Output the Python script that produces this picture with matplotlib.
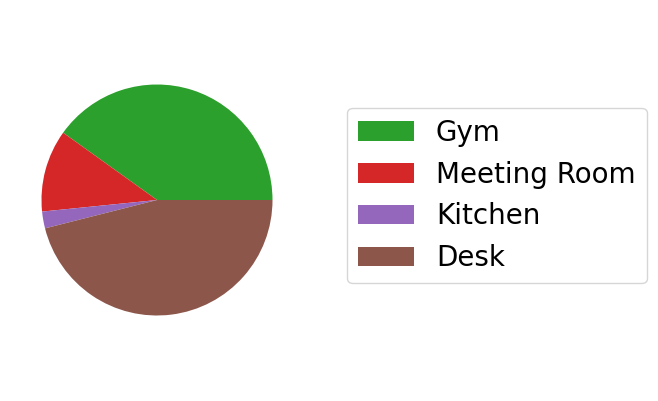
import matplotlib
matplotlib.use("Agg")
import matplotlib.pyplot as plt

labels = ["Gym", "Meeting Room", "Kitchen", "Desk"]
values = [40.1, 11.5, 2.35, 46.05]
colors = ["#2ca02c", "#d62728", "#9467bd", "#8c564b"]

fig = plt.figure(figsize=(6.58, 4.01), dpi=100)
W, H = 658, 401
r_px = 115.5
cx, cy = 157, 401 - 200
side = 2.5 * r_px
ax = fig.add_axes([(cx - side / 2) / W, (cy - side / 2) / H, side / W, side / H])
wedges, _ = ax.pie(values, colors=colors, startangle=0, counterclock=True)
ax.set_aspect("equal")

fig.legend(wedges, labels, loc="center left", bbox_to_anchor=(347 / W, 1 - 195.5 / H),
           borderaxespad=0, fontsize=20)

fig.savefig("out.png", dpi=100)
